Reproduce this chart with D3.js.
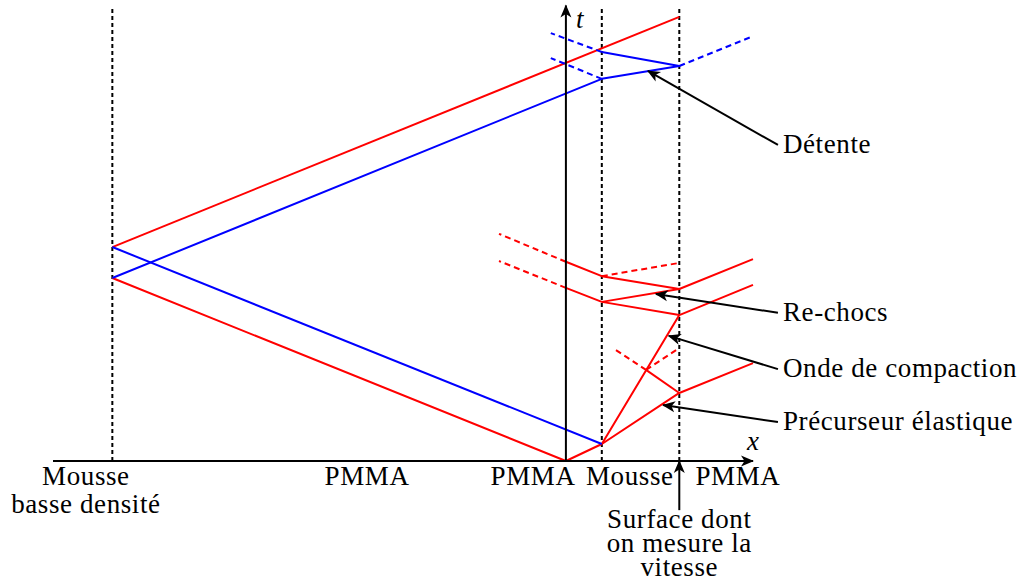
<!DOCTYPE html>
<html>
<head>
<meta charset="utf-8">
<title>Diagramme x-t</title>
<script src="https://cdn.jsdelivr.net/npm/d3@7"></script>
<style>
    body { margin: 0; background: #fff; }
    svg { display: block; }
    text { font-family: "Liberation Serif", "DejaVu Serif", serif; font-size: 27px; letter-spacing: 0.6px; fill: #000; }
</style>
</head>
<body>
<svg id="chart"></svg>
<script>
    // data in diagram units (x: position, t: time)
    const interfaces = [-12, 0.95, 3];
    const tMax = 12;

    const redSolid = [
        [[-12, 4.84], [0, 0], [0.95, 0.45]],
        [[-12, 5.66], [3, 11.75]],
        [[0.95, 0.45], [3, 1.80], [4.95, 2.59]],
        [[0.95, 0.45], [3, 3.86], [4.95, 4.66]],
        [[3, 1.80], [2.12, 2.41]],
        [[3, 3.86], [0.95, 4.21], [0, 4.58]],
        [[0.95, 4.21], [3, 4.55], [4.95, 5.34]],
        [[3, 4.55], [0.95, 4.89], [0, 5.27]]
    ];
    const redDashed = [
        [[0, 4.58], [-1.77, 5.29]],
        [[0, 5.27], [-1.77, 6.01]],
        [[0.95, 4.89], [3, 5.24]],
        [[2.12, 2.41], [1.24, 2.99]],
        [[2.12, 2.41], [3, 2.99]]
    ];
    const blueSolid = [
        [[-12, 5.66], [0.95, 0.45]],
        [[-12, 4.84], [0.95, 10.11], [3, 10.45], [0.95, 10.82]]
    ];
    const blueDashed = [
        [[3, 10.45], [4.95, 11.24]],
        [[0.95, 10.82], [-0.40, 11.32]],
        [[0.95, 10.11], [-0.40, 10.66]]
    ];

    const materials = [
        { lines: ["Mousse", "basse densité"], x: -12.7 },
        { lines: ["PMMA"], x: -5.26 },
        { lines: ["PMMA"], x: -0.87 },
        { lines: ["Mousse"], x: 1.69 },
        { lines: ["PMMA"], x: 4.55 }
    ];

    const notes = [
        { label: "Détente", from: [5.61, 8.36], to: [2.17, 10.32] },
        { label: "Re-chocs", from: [5.61, 3.92], to: [2.38, 4.42] },
        { label: "Onde de compaction", from: [5.61, 2.43], to: [2.72, 3.31] },
        { label: "Précurseur élastique", from: [5.61, 1.03], to: [2.57, 1.48] }
    ];
    const surface = { lines: ["Surface dont", "on mesure la", "vitesse"], from: [3, -1.30], to: [3, 0] };

    const W = 1025, H = 580;
    const svg = d3.select("#chart").attr("width", W).attr("height", H);

    // 1 unit = 37.8px, origin of axes at (566, 461)
    const x = d3.scaleLinear().domain([-13.57, 4.95]).range([53, 753]);
    const y = d3.scaleLinear().domain([0, 12]).range([461, 7.4]);

    const defs = svg.append("defs");
    defs.append("marker")
        .attr("id", "arr")
        .attr("viewBox", "-14 -6 16 12")
        .attr("refX", 0).attr("refY", 0)
        .attr("markerWidth", 16).attr("markerHeight", 12)
        .attr("markerUnits", "userSpaceOnUse")
        .attr("orient", "auto")
        .append("path")
        .attr("d", "M1,0 L-12,-5.5 L-8.5,0 L-12,5.5 Z")
        .attr("fill", "#000");

    const line = d3.line().x(d => x(d[0])).y(d => y(d[1]));

    // interfaces
    svg.selectAll(".iface")
        .data(interfaces)
        .enter()
        .append("line")
        .attr("class", "iface")
        .attr("x1", d => x(d)).attr("x2", d => x(d))
        .attr("y1", y(0)).attr("y2", y(tMax))
        .attr("stroke", "#000")
        .attr("stroke-width", 2)
        .attr("stroke-dasharray", "4,3");

    function draw(data, color, dash) {
        svg.append("g").selectAll("path")
            .data(data)
            .enter()
            .append("path")
            .attr("d", line)
            .attr("fill", "none")
            .attr("stroke", color)
            .attr("stroke-width", 2)
            .attr("stroke-linejoin", "round")
            .attr("stroke-dasharray", dash);
    }
    draw(redSolid, "#ff0000", null);
    draw(redDashed, "#ff0000", "6,4");
    draw(blueSolid, "#0000ff", null);
    draw(blueDashed, "#0000ff", "6,4");

    // axes
    svg.append("line")
        .attr("x1", x(-13.57)).attr("x2", x(4.95))
        .attr("y1", y(0)).attr("y2", y(0))
        .attr("stroke", "#000").attr("stroke-width", 2)
        .attr("marker-end", "url(#arr)");
    svg.append("line")
        .attr("x1", x(0)).attr("x2", x(0))
        .attr("y1", y(0)).attr("y2", y(12.05))
        .attr("stroke", "#000").attr("stroke-width", 2)
        .attr("marker-end", "url(#arr)");
    svg.append("text").attr("x", x(0) + 10).attr("y", y(12) + 21)
        .style("font-style", "italic").text("t");
    svg.append("text").attr("x", x(4.95) - 6).attr("y", y(0) - 11)
        .style("font-style", "italic").text("x");

    // material names
    materials.forEach(m => {
        m.lines.forEach((s, i) => {
            svg.append("text")
                .attr("x", x(m.x))
                .attr("y", y(0) + 24 + i * 28)
                .attr("text-anchor", "middle")
                .text(s);
        });
    });

    // annotations
    svg.selectAll(".note")
        .data(notes)
        .enter()
        .append("line")
        .attr("class", "note")
        .attr("x1", d => x(d.from[0])).attr("y1", d => y(d.from[1]))
        .attr("x2", d => x(d.to[0])).attr("y2", d => y(d.to[1]))
        .attr("stroke", "#000").attr("stroke-width", 2)
        .attr("marker-end", "url(#arr)");
    svg.selectAll(".notetext")
        .data(notes)
        .enter()
        .append("text")
        .attr("class", "notetext")
        .attr("x", d => x(d.from[0]) + 5)
        .attr("y", d => y(d.from[1]) + 8)
        .text(d => d.label);

    svg.append("line")
        .attr("x1", x(surface.from[0])).attr("y1", y(surface.from[1]))
        .attr("x2", x(surface.to[0])).attr("y2", y(surface.to[1]))
        .attr("stroke", "#000").attr("stroke-width", 2)
        .attr("marker-end", "url(#arr)");
    surface.lines.forEach((s, i) => {
        svg.append("text")
            .attr("x", x(surface.from[0]))
            .attr("y", y(surface.from[1]) + 18 + i * 24)
            .attr("text-anchor", "middle")
            .text(s);
    });
</script>
</body>
</html>
